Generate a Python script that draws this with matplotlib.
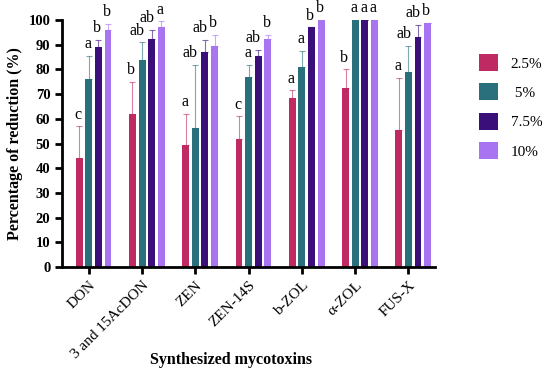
import matplotlib
matplotlib.use("Agg")
import matplotlib.pyplot as plt
import numpy as np

# mycotoxines et taux d'ajout
toxines = ["DON", "3 and 15AcDON", "ZEN", "ZEN-14S", "b-ZOL", "α-ZOL", "FUS-X"]
doses = ["2.5%", " 5%", "7.5%", "10%"]

# pourcentage de reduction, une liste par dose
red_25 = [44, 62, 49.5, 52, 68.5, 72.5, 55.5]
red_5 = [76, 84, 56.5, 77, 81, 100, 79]
red_75 = [89, 92.5, 87, 85.5, 97, 100, 93]
red_10 = [96, 97, 89.5, 92.5, 100, 100, 99]

# ecarts-types (barre superieure seulement)
err_25 = [13, 13, 12.5, 9, 3, 7.5, 21]
err_5 = [9.5, 7, 25.5, 5, 6.5, 0, 10.5]
err_75 = [3, 3.5, 5, 2.5, 0, 0, 5]
err_10 = [2.5, 2.5, 4.5, 1.5, 0, 0, 0]

# lettres de significativite
let_25 = ["c", "b", "a", "c", "a", "b", "a"]
let_5 = ["a", "ab", "ab", "a", "a", "a", "ab"]
let_75 = ["b", "ab", "ab", "ab", "b", "a", "ab"]
let_10 = ["b", "a", "b", "b", "b", "a", "b"]

couleurs = ["#c02a62", "#2a6f7c", "#3b0f7a", "#a874f2"]

plt.rcParams["font.family"] = ["Liberation Serif", "DejaVu Serif"]

fig = plt.figure(figsize=(5.5, 3.72), dpi=100)
ax = fig.add_axes([0.113, 0.282, 0.678, 0.664])

x = np.arange(len(toxines))
pas = 0.18
larg = 0.13
series = [(red_25, err_25, let_25), (red_5, err_5, let_5),
          (red_75, err_75, let_75), (red_10, err_10, let_10)]

for i, (vals, errs, lets) in enumerate(series):
    pos = x + (i - 1) * pas
    ax.bar(pos, vals, width=larg, color=couleurs[i], label=doses[i], zorder=2)
    ax.errorbar(pos, vals, yerr=[np.zeros(len(errs)), errs], fmt="none",
                ecolor=couleurs[i], elinewidth=0.8, capsize=2, capthick=0.8,
                alpha=0.6, zorder=3)
    for p, v, e, l in zip(pos, vals, errs, lets):
        ax.text(p + 0.05, v + e + 1.5, l, ha="right", va="bottom",
                fontsize=11.5, clip_on=False)

ax.set_xlim(-0.5, 6.5)
ax.set_ylim(0, 100)
ax.set_yticks(range(0, 101, 10))
ax.set_xticks(x)
ax.set_xticklabels(toxines, rotation=45, ha="right", rotation_mode="anchor",
                   fontsize=11)
for t in ax.get_yticklabels():
    t.set_fontweight("bold")
    t.set_fontsize(10.5)

for s in ["top", "right"]:
    ax.spines[s].set_visible(False)
for s in ["left", "bottom"]:
    ax.spines[s].set_linewidth(2)
ax.tick_params(axis="both", width=2, length=5)

ax.set_ylabel("Percentage of reduction (%)", fontweight="bold", fontsize=11.5)
fig.text(0.42, 1 - 360 / 372, "Synthesized mycotoxins", fontweight="bold",
         fontsize=11.5, ha="center", va="center")

ax.legend(loc="center left", bbox_to_anchor=(1.08, 0.65), frameon=False,
          fontsize=11, handlelength=1.3, handleheight=1.35, labelspacing=0.8,
          handletextpad=0.8)

fig.savefig("out.png", dpi=100)
